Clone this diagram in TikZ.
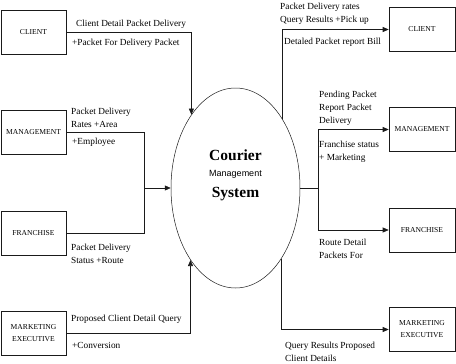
\documentclass[tikz,border=0pt]{standalone}
\usepackage{fontspec}
\setmainfont{Liberation Serif}
\setsansfont{Liberation Sans}
\usepackage{tikz}
\usetikzlibrary{arrows.meta,positioning,calc,shapes.geometric}
\definecolor{Ink}{HTML}{1A1A1A}

\begin{document}
\begin{tikzpicture}[x=1pt, y=-1pt, >={Triangle[length=6pt,width=5pt]},
    entity/.style={draw=Ink, line width=0.6pt, minimum width=65pt, minimum height=44pt, inner sep=1pt, align=center, font=\fontsize{7.6}{12}\selectfont},
    flow/.style={draw=Ink, line width=0.6pt, ->},
    link/.style={draw=Ink, line width=0.6pt},
    lbl/.style={anchor=north west, inner sep=0pt, align=left, font=\fontsize{9.3}{13}\selectfont}]
  \useasboundingbox (0,0) rectangle (456,364);
  % the process
  \node[ellipse, draw=Ink, line width=0.5pt, minimum width=129pt, minimum height=200pt, inner sep=0pt] (sys) at (235.5,188) {};
  \node[font=\fontsize{15.5}{16}\selectfont\bfseries] (sysA) at (235.5,155) {Courier};
  \node[font=\sffamily\fontsize{9}{10}\selectfont] (sysB) at (235.5,174) {Management};
  \node[font=\fontsize{15.5}{16}\selectfont\bfseries] (sysC) at (235.5,194) {System};
  % left entities
  \node[entity] (cliL) at (33.5,32) {CLIENT};
  \node[entity] (mgtL) at (33.5,132.5) {MANAGEMENT};
  \node[entity] (fraL) at (33.5,233.5) {FRANCHISE};
  \node[entity] (mktL) at (33.5,333.5) {MARKETING\\EXECUTIVE};
  % right entities
  \node[entity, minimum width=66pt] (cliR) at (422,29.5) {CLIENT};
  \node[entity, minimum width=66pt] (mgtR) at (422,129.5) {MANAGEMENT};
  \node[entity, minimum width=66pt] (fraR) at (422,230) {FRANCHISE};
  \node[entity, minimum width=66pt] (mktR) at (422,329.5) {MARKETING\\EXECUTIVE};
  % joints
  \coordinate (jL) at (144,188);
  \coordinate (jR) at (318,188);
  % flows in
  \draw[flow] (cliL.east) -| (sys.121.6);
  \draw[link] (mgtL.east) -| (jL);
  \draw[link] (fraL.east) -| (jL);
  \draw[flow] (jL) -- (sys.west);
  \draw[flow] (mktL.east) -| (sys.238.4);
  % flows out
  \draw[flow] (sys.56.1) |- (cliR.west);
  \draw[link] (sys.east) -- (jR);
  \draw[flow] (jR) |- (mgtR.west);
  \draw[flow] (jR) |- (fraR.west);
  \draw[flow] (sys.303.9) |- (mktR.west);
  % labels
  \node[lbl] (l1) at (76,20) {Client Detail Packet Delivery};
  \node[lbl] (l2) at (72,39) {+Packet For Delivery Packet};
  \node[lbl] (l3) at (71,108) {Packet Delivery\\Rates +Area};
  \node[lbl] (l4) at (72,138) {+Employee};
  \node[lbl] (l5) at (71,244) {Packet Delivery\\Status +Route};
  \node[lbl] (l6) at (71,315) {Proposed Client Detail Query};
  \node[lbl] (l7) at (72,342) {+Conversion};
  \node[lbl] (r1) at (280,3) {Packet Delivery rates\\Query Results +Pick up};
  \node[lbl] (r2) at (284,38) {Detaled Packet report Bill};
  \node[lbl] (r3) at (319,91) {Pending Packet\\Report Packet\\Delivery};
  \node[lbl] (r4) at (319,141) {Franchise status\\+ Marketing};
  \node[lbl] (r5) at (319,239) {Route Detail\\Packets For};
  \node[lbl] (r6) at (285,342) {Query Results Proposed\\Client Details};
\end{tikzpicture}
\end{document}
